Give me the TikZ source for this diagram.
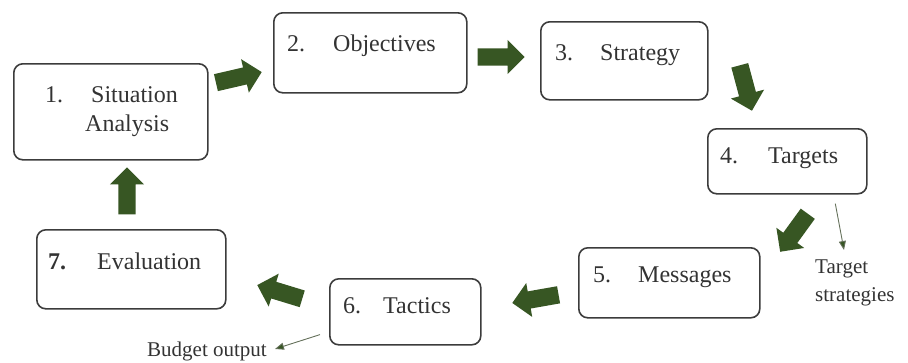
\documentclass[tikz,border=0pt]{standalone}
\usepackage{fontspec}
\setmainfont{Liberation Serif}
\newfontfamily\stagefont{Liberation Serif}
\usetikzlibrary{arrows.meta,shapes,shapes.arrows,positioning}

\definecolor{flowgreen}{RGB}{55,86,35}
\definecolor{boxgray}{RGB}{60,60,60}
\definecolor{notegray}{RGB}{100,112,90}

\begin{document}
\begin{tikzpicture}[x=1pt,y=-1pt,
    stage/.style={rectangle,draw=boxgray,line width=1.6pt,rounded corners=9pt,inner sep=0pt,anchor=north west},
    stagetext/.style={anchor=base west,inner sep=0pt,text=black!80,font=\stagefont\fontsize{24}{29}\selectfont},
    flow/.style={single arrow,fill=flowgreen,draw=none,inner xsep=0pt,inner ysep=8.5pt,minimum width=34pt,minimum height=47pt,
        single arrow head extend=8.5pt,single arrow tip angle=90,anchor=tip},
    notetext/.style={inner sep=0pt,text=black!80,font=\stagefont\fontsize{21}{28}\selectfont,align=left},
    note/.style={draw=notegray,line width=0.9pt,-{Triangle[width=7pt,length=9pt,fill=flowgreen]}}] {
    \useasboundingbox (0,0) rectangle (908,362);

    % the seven stages
    \node[stage,minimum width=194pt,minimum height=96pt] (situation) at (13,63) {};
    \node[stage,minimum width=193pt,minimum height=80pt] (objectives) at (273,12) {};
    \node[stage,minimum width=167pt,minimum height=78pt] (strategy) at (540,21) {};
    \node[stage,minimum width=159pt,minimum height=65pt] (targets) at (707,128) {};
    \node[stage,minimum width=181pt,minimum height=70pt] (messages) at (578,247) {};
    \node[stage,minimum width=151pt,minimum height=66pt] (tactics) at (329,278) {};
    \node[stage,minimum width=189pt,minimum height=79pt] (evaluation) at (36,229) {};

    \node[stagetext] (situationtxt) at ([shift={(32,39)}]situation.north west) {\makebox[46pt][l]{1.}Situation};
    \node[stagetext] (analysistxt) at ([shift={(72,68)}]situation.north west) {Analysis};
    \node[stagetext] (objectivestxt) at ([shift={(14,39)}]objectives.north west) {\makebox[46pt][l]{2.}Objectives};
    \node[stagetext] (strategytxt) at ([shift={(15,39)}]strategy.north west) {\makebox[45pt][l]{3.}Strategy};
    \node[stagetext] (targetstxt) at ([shift={(13,35)}]targets.north west) {\makebox[48pt][l]{4.}Targets};
    \node[stagetext] (messagestxt) at ([shift={(15,35)}]messages.north west) {\makebox[45pt][l]{5.}Messages};
    \node[stagetext] (tacticstxt) at ([shift={(14,35)}]tactics.north west) {\makebox[40pt][l]{6.}Tactics};
    \node[stagetext] (evaluationtxt) at ([shift={(12,40)}]evaluation.north west) {\makebox[49pt][l]{\textbf{7.}}Evaluation};

    % green block arrows round the cycle
    \node[flow,rotate=13] (sitobj) at (262,72) {};
    \node[flow] (objstr) at (525,57) {};
    \node[flow,rotate=-75] (strtar) at (752,111) {};
    \node[flow,rotate=234] (tarmes) at (780,252) {};
    \node[flow,rotate=190] (mestac) at (512,303) {};
    \node[flow,rotate=163] (taceva) at (257,285) {};
    \node[flow,rotate=90] (evasit) at (127,167) {};

    % side outputs
    \node[notetext,anchor=north west] (tgtnote) at (815,260) {Target\\strategies};
    \node[notetext,anchor=base east] (budget) at (267,356) {Budget output};
    \coordinate (tgtend) at (844,250);
    \draw[note] ([shift={(48,9)}]targets.south) -- (tgtend);
    \draw[note] ([shift={(-9,-11)}]tactics.south west) -- ([xshift=8pt,yshift=2pt]budget.east);
 }
\end{tikzpicture}
\end{document}
